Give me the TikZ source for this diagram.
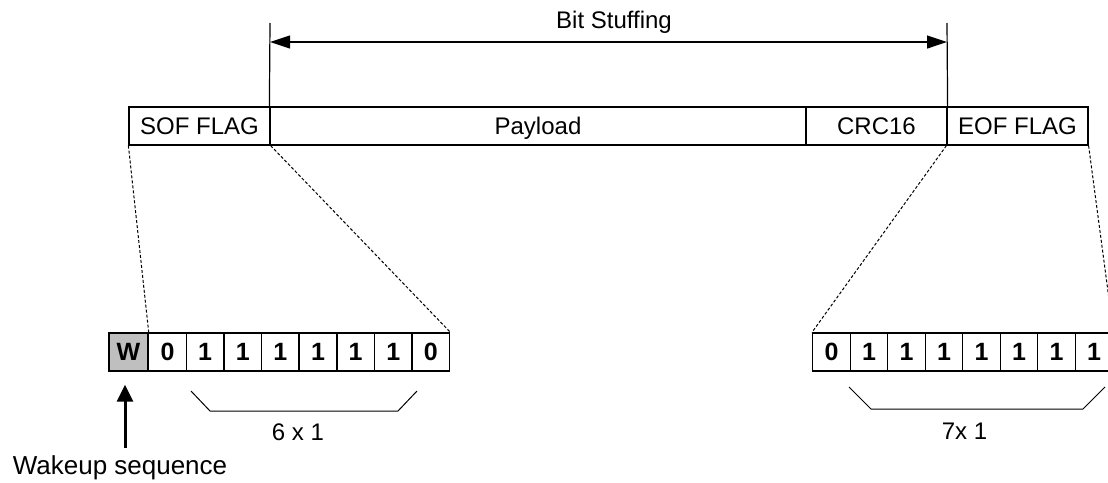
\documentclass[tikz,border=0pt]{standalone}
\usepackage{fontspec}
\setmainfont{Liberation Sans}
\usetikzlibrary{arrows.meta}
\begin{document}
\begin{tikzpicture}[x=1pt,y=-1pt,
  field/.style={draw,line width=1.2pt,minimum height=38pt,inner sep=0pt,text height=17.2pt,text depth=0pt,font=\fontsize{24}{27}\selectfont},
  bitcell/.style={draw,line width=1.4pt,minimum height=38pt,minimum width=37.6pt,inner sep=0pt,text height=17.9pt,text depth=0pt,font=\fontsize{25}{28}\selectfont\bfseries},
  lbl/.style={inner sep=0pt,font=\fontsize{24}{27}\selectfont},
  zoomline/.style={dashed,dash pattern=on 3pt off 2pt,line width=1pt},
  brace/.style={line width=1pt}]
\useasboundingbox (0,0) rectangle (1108,482);
\clip (0,0) rectangle (1108,482);
% frame fields
\node[field,minimum width=141pt] (sof) at (199.5,126) {SOF FLAG};
\node[field,minimum width=536pt] (pay) at (538,126) {Payload};
\node[field,minimum width=141pt] (crc) at (876.5,126) {CRC16};
\node[field,minimum width=141pt] (eof) at (1017.5,126) {EOF FLAG};
% bit stuffing dimension
\coordinate (bl) at (270,23);
\coordinate (br) at (947,23);
\draw[line width=1.2pt] (bl) -- (pay.north west);
\draw[line width=1.2pt] (br) -- (crc.north east);
\coordinate (al) at (270,42);
\coordinate (ar) at (947,42);
\draw[line width=1.2pt,{Triangle[length=20pt,width=13pt]}-{Triangle[length=20pt,width=13pt]}] (al) -- (ar);
\node[lbl] (bs) at (614,22) {Bit Stuffing};
% left bits
\node[bitcell,fill=black!25,minimum width=39pt] (w) at (128.5,352) {W};
\foreach \i/\v in {1/0,2/1,3/1,4/1,5/1,6/1,7/1,8/0}{
  \node[bitcell,anchor=west] (b\i) at ({148+(\i-1)*37.625},352) {\v};
}
% right bits
\foreach \i/\v in {1/0,2/1,3/1,4/1,5/1,6/1,7/1,8/1}{
  \node[bitcell,anchor=west,minimum width=37.5pt] (r\i) at ({812+(\i-1)*37.5},352) {\v};
}
% zoom lines
\draw[zoomline] (sof.south west) -- (w.north east);
\draw[zoomline] (sof.south east) -- (b8.north east);
\draw[zoomline] (eof.south west) -- (r1.north west);
\draw[zoomline] (eof.south east) -- (r8.north east);
% braces
\coordinate (la) at (191,391); \coordinate (lb) at (210,411);
\coordinate (lc) at (398,411); \coordinate (ld) at (417,391);
\draw[brace] (la) -- (lb) -- (lc) -- (ld);
\node[lbl] (six) at (298,432) {6 x 1};
\coordinate (ra) at (849,387); \coordinate (rb) at (871,409);
\coordinate (rc) at (1083,409); \coordinate (rd) at (1105,387);
\draw[brace] (ra) -- (rb) -- (rc) -- (rd);
\node[lbl] (seven) at (964.5,431) {7x 1};
% wakeup
\node[lbl,font=\fontsize{26}{30}\selectfont] (wake) at (120,468) {Wakeup sequence};
\coordinate (wa) at (125,448);
\draw[line width=3pt,-{Triangle[length=17pt,width=16pt]},shorten >=13pt] (wa) -- (w.south -| wa);
\end{tikzpicture}
\end{document}
